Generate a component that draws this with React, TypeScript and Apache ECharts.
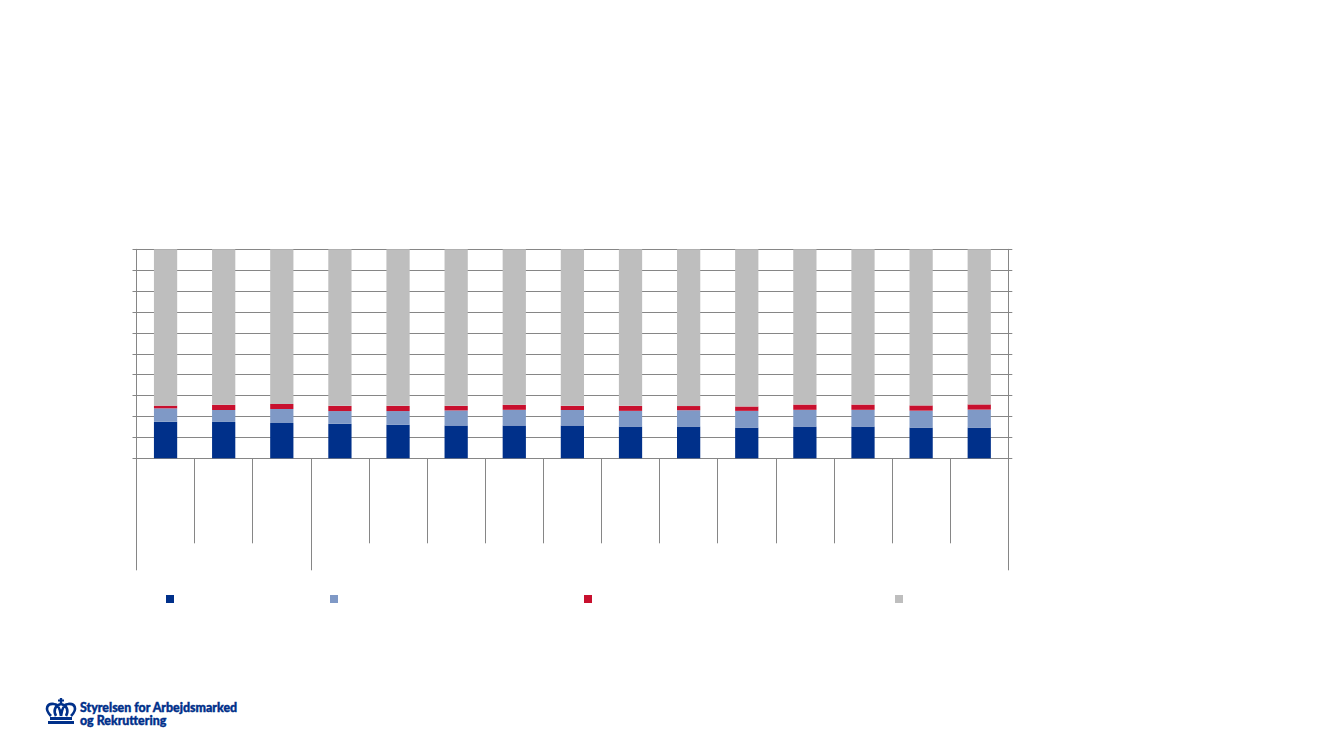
import React, { useEffect, useRef } from "react";
import * as echarts from "echarts";

const categories = ["1", "2", "3", "4", "5", "6", "7", "8", "9", "10", "11", "12", "13", "14", "15"];
const seriesNames = ["Serie 1", "Serie 2", "Serie 3", "Serie 4"];
const darkBlue = [17.5, 17.4, 16.9, 16.5, 16.1, 15.7, 15.7, 15.7, 15.2, 15.2, 14.7, 15.2, 15.2, 14.7, 14.7];
const lightBlue = [6.4, 5.7, 6.7, 6.1, 6.5, 7.2, 7.5, 7.4, 7.5, 7.8, 8.0, 8.0, 8.0, 8.1, 8.6];
const red = [1.3, 2.5, 2.4, 2.5, 2.5, 2.2, 2.4, 2.0, 2.4, 2.0, 2.1, 2.5, 2.5, 2.5, 2.5];
const grey = [74.8, 74.4, 74.0, 74.9, 74.9, 74.9, 74.4, 74.9, 74.9, 75.0, 75.2, 74.3, 74.3, 74.7, 74.2];
const colors = ["#00308A", "#7F99C6", "#C8102E", "#BEBEBE"];
const logoLines = ["Styrelsen for Arbejdsmarked", "og Rekruttering"];
const axisColor = "#868686";
const crownArches =
  "M50 716 C43 709 46 703 53 704 C57 704 59 708 60 716 M70 716 C77 709 74 703 67 704 C63 704 61 708 60 716 M55 716 C52 711 54 705 60 704 C66 705 68 711 65 716";
const crownBase = "M49 717 L71 717 L71 720 L49 720 Z M47 721 L73 721 L73 724 L47 724 Z M58.8 698 L61.2 698 L61.2 699.5 L63 699.5 L63 701.5 L61.2 701.5 L61.2 703 L58.8 703 L58.8 701.5 L57 701.5 L57 699.5 L58.8 699.5 Z";

echarts.graphic.registerShape("crownArches", echarts.graphic.extendPath(crownArches as any, {}) as any);
echarts.graphic.registerShape("crownBase", echarts.graphic.extendPath(crownBase as any, {}) as any);

export default function App() {
  const ref = useRef<HTMLDivElement>(null);
  useEffect(() => {
    const chart = echarts.init(ref.current!, undefined, { renderer: "svg" });
    const legendLeft = [166, 330, 584, 895];
    const line = { show: true, lineStyle: { color: axisColor, width: 1 } };
    chart.setOption({
      animation: false,
      backgroundColor: "#ffffff",
      grid: { left: 136.5, top: 249.3, width: 871.8, height: 209, containLabel: false },
      legend: seriesNames.map((n, i) => ({
        data: [n],
        left: legendLeft[i],
        top: 595,
        padding: 0,
        itemWidth: 8,
        itemHeight: 8,
        icon: "rect",
        selectedMode: false,
        formatter: () => "",
      })),
      xAxis: [
        {
          type: "category",
          data: categories,
          position: "bottom",
          axisLine: line,
          axisLabel: { show: false },
          axisTick: { show: true, length: 85, interval: 0, lineStyle: { color: axisColor } },
        },
        {
          type: "category",
          data: categories,
          position: "bottom",
          axisLine: { show: false },
          axisLabel: { show: false },
          axisTick: {
            show: true,
            length: 112,
            interval: (i: number) => i === 0 || i === 3,
            lineStyle: { color: axisColor },
          },
        },
      ],
      yAxis: [
        {
          type: "value",
          min: 0,
          max: 100,
          interval: 10,
          position: "left",
          axisLine: line,
          axisLabel: { show: false },
          axisTick: { show: true, length: 4, lineStyle: { color: axisColor } },
          splitLine: { show: true, lineStyle: { color: axisColor, width: 1 } },
        },
        {
          type: "value",
          min: 0,
          max: 100,
          interval: 10,
          position: "right",
          axisLine: line,
          axisLabel: { show: false },
          axisTick: { show: true, length: 4, lineStyle: { color: axisColor } },
          splitLine: { show: false },
        },
      ],
      series: [darkBlue, lightBlue, red, grey].map((d, i) => ({
        name: seriesNames[i],
        type: "bar",
        stack: "total",
        barWidth: "40%",
        data: d,
        itemStyle: { color: colors[i] },
      })),
      graphic: [
        { type: "crownArches", x: 1, y: 0, style: { fill: "none", stroke: "#00308A", lineWidth: 2.6 } },
        { type: "crownBase", x: 1, y: 0, style: { fill: "#00308A" } },
        {
          type: "text",
          x: 80,
          y: 701,
          style: { text: logoLines[0], fill: "#00308A", stroke: "#00308A", lineWidth: 0.4, font: "900 12.4px Lato, sans-serif" },
        },
        {
          type: "text",
          x: 80,
          y: 714,
          style: { text: logoLines[1], fill: "#00308A", stroke: "#00308A", lineWidth: 0.4, font: "900 12.4px Lato, sans-serif" },
        },
      ],
    });
    return () => chart.dispose();
  }, []);
  return (
    <div
      ref={ref}
      style={{ position: "fixed", left: 0, top: 0, width: 1333, height: 750, background: "#fff" }}
    />
  );
}
